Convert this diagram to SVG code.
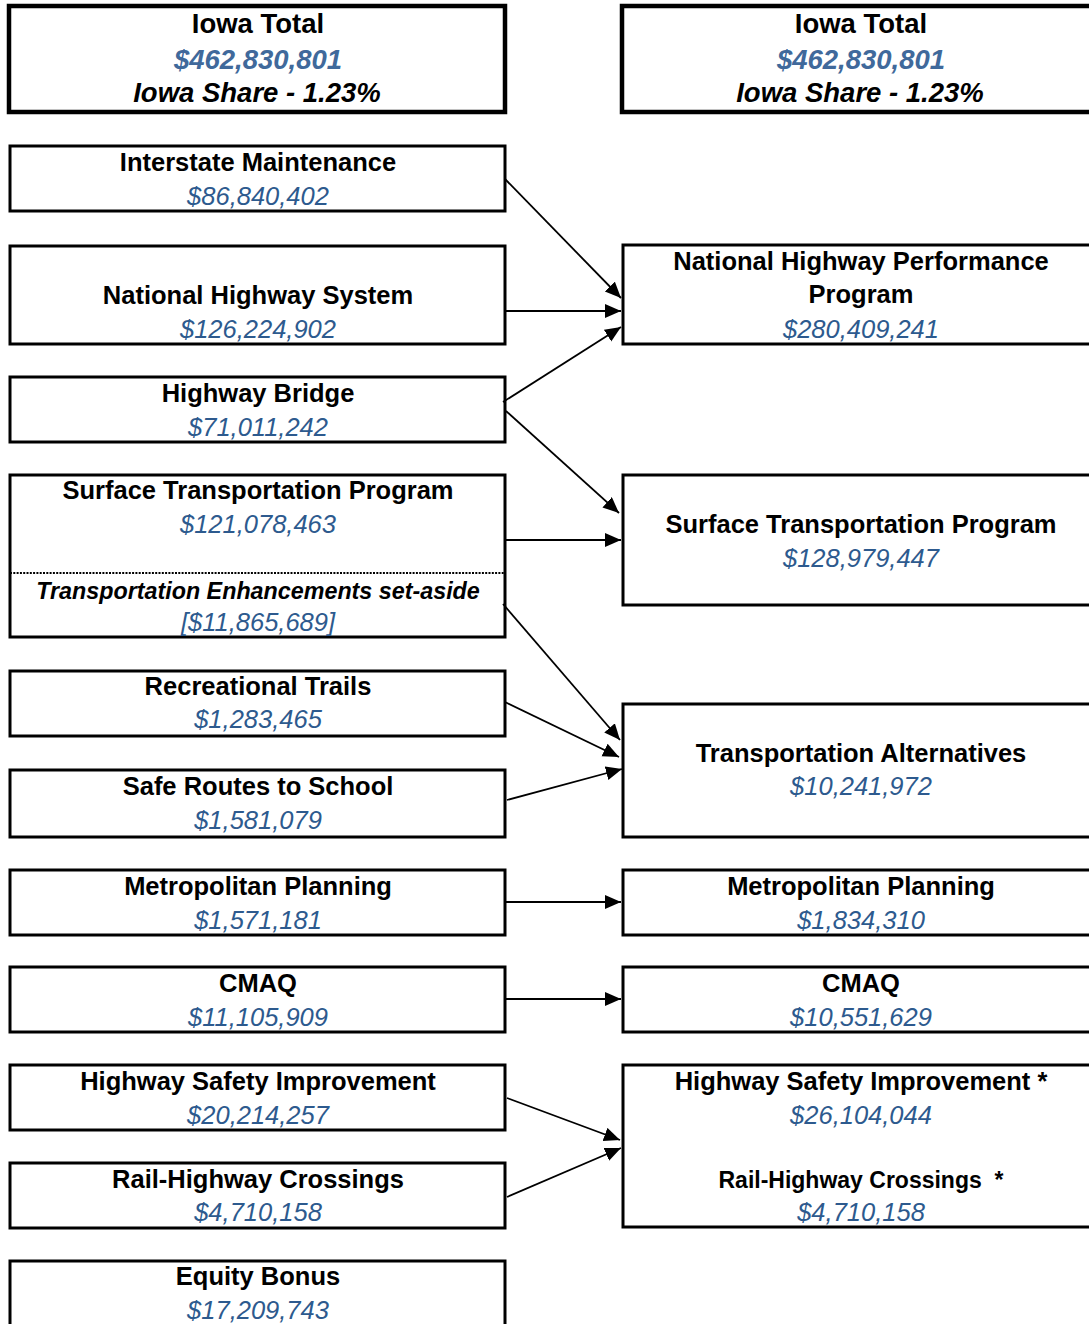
<svg xmlns="http://www.w3.org/2000/svg" width="1089" height="1324" viewBox="0 0 1089 1324">
<defs>
<style>
.box{fill:#fff;stroke:#000;stroke-width:3}
.tot{fill:#fff;stroke:#000;stroke-width:4.5}
.t{font-family:"Liberation Sans",Arial,sans-serif;font-weight:bold;font-size:25.5px;fill:#000;text-anchor:middle}
.a{font-family:"Liberation Sans",Arial,sans-serif;font-style:italic;font-size:25.5px;fill:#2D5A8E;text-anchor:middle}
.tt{font-family:"Liberation Sans",Arial,sans-serif;font-weight:bold;font-size:27.5px;fill:#000;text-anchor:middle}
.ta{font-family:"Liberation Sans",Arial,sans-serif;font-weight:bold;font-style:italic;font-size:27.5px;fill:#40699B;text-anchor:middle}
.ts{font-family:"Liberation Sans",Arial,sans-serif;font-weight:bold;font-style:italic;font-size:27.5px;fill:#000;text-anchor:middle}
.c{stroke:#000;stroke-width:1.8;fill:none;marker-end:url(#ah)}
</style>
<marker id="ah" markerUnits="userSpaceOnUse" markerWidth="17" markerHeight="15" refX="16" refY="7" orient="auto">
<path d="M0,0 L16,7 L0,14 z" fill="#000"/>
</marker>
</defs>
<rect width="1089" height="1324" fill="#fff"/>

<g id="iowa-total-left">
<rect class="tot" x="9" y="6" width="496" height="106"/>
<text class="tt" x="258" y="33">Iowa Total</text>
<text class="ta" x="258" y="69">$462,830,801</text>
<text class="ts" x="257" y="102">Iowa Share - 1.23%</text>
</g>
<g id="iowa-total-right">
<rect class="tot" x="622" y="6" width="500" height="106"/>
<text class="tt" x="861" y="33">Iowa Total</text>
<text class="ta" x="861" y="69">$462,830,801</text>
<text class="ts" x="860" y="102">Iowa Share - 1.23%</text>
</g>

<g id="interstate-maintenance">
<rect class="box" x="10" y="146" width="495" height="65"/>
<text class="t" x="258" y="171">Interstate Maintenance</text>
<text class="a" x="258" y="205">$86,840,402</text>
</g>
<g id="national-highway-system">
<rect class="box" x="10" y="246" width="495" height="98"/>
<text class="t" x="258" y="304">National Highway System</text>
<text class="a" x="258" y="338">$126,224,902</text>
</g>
<g id="highway-bridge">
<rect class="box" x="10" y="377" width="495" height="65"/>
<text class="t" x="258" y="402">Highway Bridge</text>
<text class="a" x="258" y="436">$71,011,242</text>
</g>
<g id="stp-left">
<rect class="box" x="10" y="475" width="495" height="162"/>
<text class="t" x="258" y="499">Surface Transportation Program</text>
<text class="a" x="258" y="533">$121,078,463</text>
<line x1="10" y1="573" x2="505" y2="573" stroke="#000" stroke-width="2.2" stroke-dasharray="2,1.3"/>
<text x="258" y="599" font-family="Liberation Sans, Arial, sans-serif" font-weight="bold" font-style="italic" font-size="23.3" text-anchor="middle" fill="#000">Transportation Enhancements set-aside</text>
<text class="a" x="258" y="631">[$11,865,689]</text>
</g>
<g id="recreational-trails">
<rect class="box" x="10" y="671" width="495" height="65"/>
<text class="t" x="258" y="695">Recreational Trails</text>
<text class="a" x="258" y="728">$1,283,465</text>
</g>
<g id="safe-routes">
<rect class="box" x="10" y="770" width="495" height="67"/>
<text class="t" x="258" y="795">Safe Routes to School</text>
<text class="a" x="258" y="829">$1,581,079</text>
</g>
<g id="metro-left">
<rect class="box" x="10" y="870" width="495" height="65"/>
<text class="t" x="258" y="895">Metropolitan Planning</text>
<text class="a" x="258" y="929">$1,571,181</text>
</g>
<g id="cmaq-left">
<rect class="box" x="10" y="967" width="495" height="65"/>
<text class="t" x="258" y="992">CMAQ</text>
<text class="a" x="258" y="1026">$11,105,909</text>
</g>
<g id="hsi-left">
<rect class="box" x="10" y="1065" width="495" height="65"/>
<text class="t" x="258" y="1090">Highway Safety Improvement</text>
<text class="a" x="258" y="1124">$20,214,257</text>
</g>
<g id="rail-left">
<rect class="box" x="10" y="1163" width="495" height="65"/>
<text class="t" x="258" y="1188">Rail-Highway Crossings</text>
<text class="a" x="258" y="1221">$4,710,158</text>
</g>
<g id="equity-bonus">
<rect class="box" x="10" y="1261" width="495" height="80"/>
<text class="t" x="258" y="1285">Equity Bonus</text>
<text class="a" x="258" y="1319">$17,209,743</text>
</g>

<g id="nhpp">
<rect class="box" x="623" y="245" width="500" height="99"/>
<text class="t" x="861" y="270">National Highway Performance</text>
<text class="t" x="861" y="303">Program</text>
<text class="a" x="861" y="338">$280,409,241</text>
</g>
<g id="stp-right">
<rect class="box" x="623" y="475" width="500" height="130"/>
<text class="t" x="861" y="533">Surface Transportation Program</text>
<text class="a" x="861" y="567">$128,979,447</text>
</g>
<g id="transportation-alternatives">
<rect class="box" x="623" y="704" width="500" height="133"/>
<text class="t" x="861" y="762">Transportation Alternatives</text>
<text class="a" x="861" y="795">$10,241,972</text>
</g>
<g id="metro-right">
<rect class="box" x="623" y="870" width="500" height="65"/>
<text class="t" x="861" y="895">Metropolitan Planning</text>
<text class="a" x="861" y="929">$1,834,310</text>
</g>
<g id="cmaq-right">
<rect class="box" x="623" y="967" width="500" height="65"/>
<text class="t" x="861" y="992">CMAQ</text>
<text class="a" x="861" y="1026">$10,551,629</text>
</g>
<g id="hsi-rail-right">
<rect class="box" x="623" y="1065" width="500" height="162"/>
<text class="t" x="861" y="1090">Highway Safety Improvement *</text>
<text class="a" x="861" y="1124">$26,104,044</text>
<text x="861" y="1188" font-family="Liberation Sans, Arial, sans-serif" font-weight="bold" font-size="23" text-anchor="middle" fill="#000" xml:space="preserve">Rail-Highway Crossings  *</text>
<text class="a" x="861" y="1221">$4,710,158</text>
</g>

<g id="connectors">
<line class="c" x1="505" y1="179" x2="621" y2="298"/>
<line class="c" x1="505" y1="311" x2="621" y2="311"/>
<line class="c" x1="503" y1="402" x2="621" y2="327"/>
<line class="c" x1="506" y1="411" x2="619" y2="513"/>
<line class="c" x1="505" y1="540" x2="621" y2="540"/>
<line class="c" x1="503" y1="604" x2="620" y2="740"/>
<line class="c" x1="505" y1="702" x2="619" y2="757"/>
<line class="c" x1="507" y1="800" x2="622" y2="769"/>
<line class="c" x1="505" y1="902" x2="621" y2="902"/>
<line class="c" x1="505" y1="999" x2="621" y2="999"/>
<line class="c" x1="507" y1="1098" x2="620" y2="1140"/>
<line class="c" x1="507" y1="1197" x2="621" y2="1148"/>
</g>
</svg>
